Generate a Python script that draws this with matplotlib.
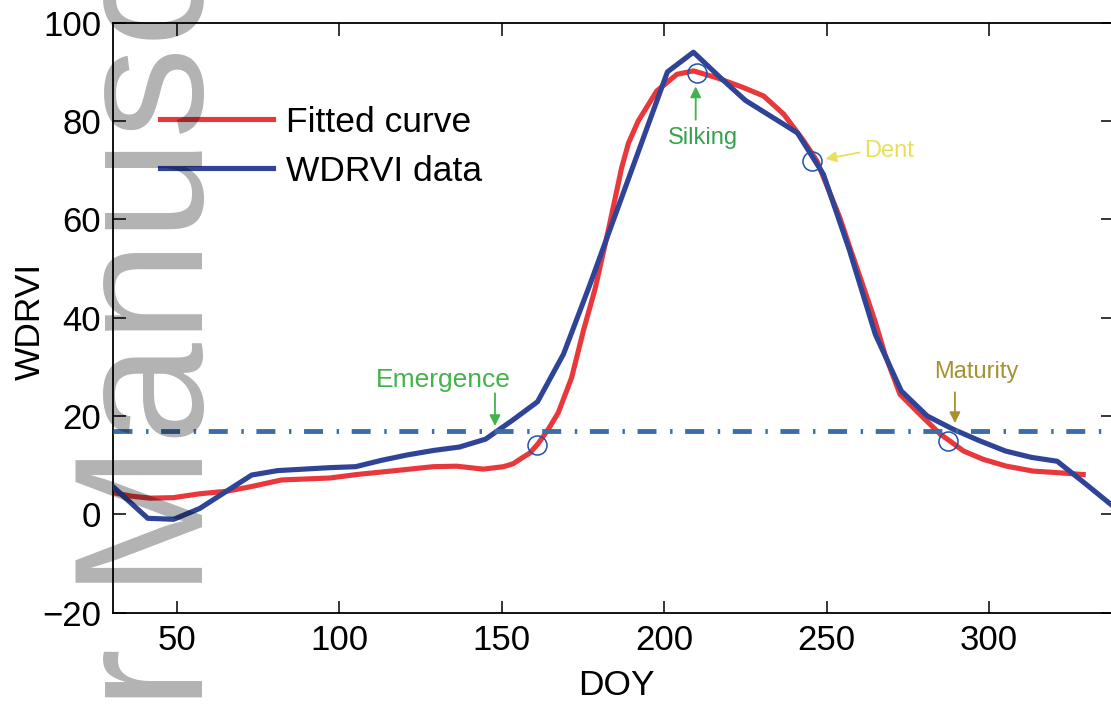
import matplotlib
matplotlib.use("Agg")
from matplotlib import pyplot as plt

plt.rcParams["font.family"] = ["Liberation Sans", "DejaVu Sans"]

# WDRVI observations (8-day composites)
doy_obs = [25, 33, 41, 49, 57, 65, 73, 81, 89, 97, 105, 113, 121, 129, 137, 145, 153, 161, 169,
           177, 185, 193, 201, 209, 217, 225, 233, 241, 249, 257, 265, 273, 281, 289, 297, 305,
           313, 321, 329, 337, 345]
wdrvi_obs = [8.8, 4.0, -0.8, -1.0, 1.2, 4.6, 8.0, 8.9, 9.2, 9.5, 9.7, 11.0, 12.1, 13.0, 13.7, 15.3,
             19.0, 22.9, 32.6, 46.5, 61.0, 75.5, 90.0, 94.0, 89.0, 84.2, 80.9, 77.6, 69.2, 53.8,
             36.6, 25.1, 20.0, 17.3, 15.0, 12.9, 11.6, 10.8, 6.6, 2.3, -1.9]

# fitted curve
doy_fit = [30.4, 36, 41.7, 48.9, 57.1, 65.3, 72.5, 82.2, 97.1, 105.3, 118.7, 128.9, 136.1, 144.3,
           150.5, 153.5, 156.5, 158.7, 161.2, 164.5, 167.4, 171.5, 175.1, 178.7, 182.8, 186.9, 189,
           192, 197.7, 203.9, 209, 216.2, 224.4, 230.6, 236.8, 242.9, 247, 249.5, 254.1, 257.2, 262,
           264.9, 268, 272.6, 278.8, 285, 288, 292.1, 298.2, 305.4, 313.6, 320.8, 329]
wdrvi_fit = [4.4, 3.7, 3.3, 3.4, 4.2, 4.7, 5.6, 7.0, 7.4, 8.1, 9.0, 9.7, 9.8, 9.2,
             9.7, 10.3, 11.6, 12.5, 14.4, 17.5, 20.7, 27.8, 37.3, 45.8, 57.8, 70.5, 75.5,
             80.0, 86.1, 89.5, 90.2, 88.8, 86.8, 85.1, 81.4, 76.0, 71.9, 67.8, 60.3, 54.2, 45.0,
             39.3, 32.5, 24.4, 20.3, 16.3, 14.9, 12.9, 11.2, 9.8, 8.8, 8.5, 8.1]

# stage points and threshold
stage_doy = [160.9, 210, 245.5, 287.5]
stage_val = [14.2, 89.8, 71.9, 14.9]
threshold = 17.0

fig = plt.figure(figsize=(11.11, 7.04), dpi=100)
ax = fig.add_axes([113 / 1111, 91.3 / 704, 1000.4 / 1111, 590 / 704])

ax.plot(doy_fit, wdrvi_fit, color="#e8383b", lw=3.7, label="Fitted curve", zorder=2)
ax.plot(doy_obs, wdrvi_obs, color="#2f4497", lw=3.7, label="WDRVI data", zorder=3)
ax.axhline(threshold, color="#3b6ea6", lw=3.5, linestyle=(0, (3.9, 2.8, 0.5, 2.6)), zorder=4)
ax.plot(stage_doy, stage_val, "o", ms=13.7, mfc="none", mec="#2050aa", mew=1.1, zorder=5)

# stage labels
ax.text(132.1, 27.3, "Emergence", color="#42b34a", fontsize=19, ha="center", va="center")
ax.annotate("", xy=(147.9, 17.4), xytext=(147.9, 25.2),
            arrowprops=dict(arrowstyle="-|>", color="#42b34a", lw=1.3, mutation_scale=16))
ax.text(211.8, 76.5, "Silking", color="#35a34a", fontsize=17, ha="center", va="center")
ax.annotate("", xy=(209.7, 87.6), xytext=(209.7, 79.7),
            arrowprops=dict(arrowstyle="-|>", color="#42b34a", lw=1.3, mutation_scale=16))
ax.text(261.5, 74.0, "Dent", color="#e8e05c", fontsize=17, ha="left", va="center")
ax.annotate("", xy=(248.8, 72.2), xytext=(261.0, 73.7),
            arrowprops=dict(arrowstyle="-|>", color="#e8e05c", lw=1.3, mutation_scale=16))
ax.text(296.2, 29.0, "Maturity", color="#a8902e", fontsize=17, ha="center", va="center")
ax.annotate("", xy=(289.5, 18.0), xytext=(289.5, 25.4),
            arrowprops=dict(arrowstyle="-|>", color="#a8902e", lw=1.3, mutation_scale=16))

ax.set_xlim(30.3, 338.3)
ax.set_ylim(-20, 100)
ax.set_xticks([50, 100, 150, 200, 250, 300])
ax.set_yticks([-20, 0, 20, 40, 60, 80, 100])
ax.tick_params(direction="in", top=True, right=True, length=9, width=1.1, labelsize=25)
ax.tick_params(axis="x", pad=8)
ax.tick_params(axis="y", pad=8.5)
for s in ax.spines.values():
    s.set_linewidth(1.3)

ax.set_xlabel("DOY", fontsize=25.5)
ax.set_ylabel("WDRVI", fontsize=25.5)
ax.xaxis.set_label_coords(0.503, -0.096)
ax.yaxis.set_label_coords(-0.066, 0.494)

ax.legend(loc="upper left", bbox_to_anchor=(0.047, 0.859), frameon=False, fontsize=25.5,
          handlelength=3.2, handletextpad=0.37, labelspacing=0.45, borderaxespad=0, borderpad=0)

# watermark
fig.text(203 / 1111, -0.687, "Author Manuscript", rotation=90, rotation_mode="anchor",
         ha="left", va="baseline", fontsize=132, color="black", alpha=0.3, zorder=10)

fig.savefig("out.png", dpi=100)
